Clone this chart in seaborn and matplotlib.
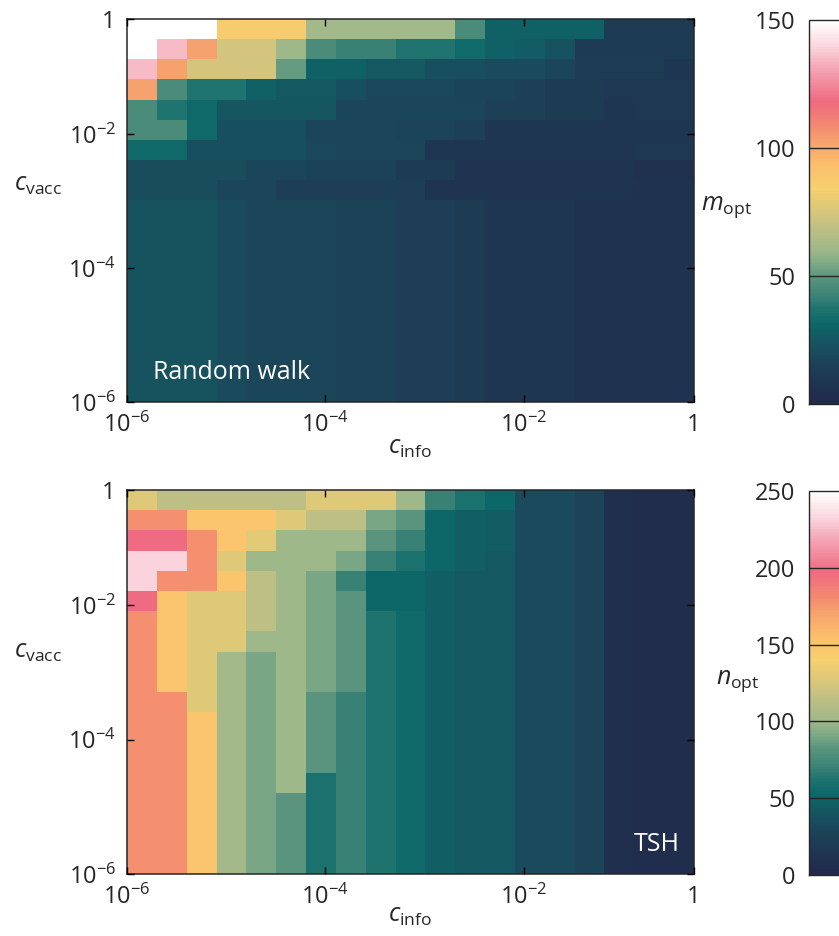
import numpy as np
import pandas as pd
import matplotlib
matplotlib.use("Agg")
import matplotlib.pyplot as plt
import seaborn as sns
from matplotlib.colors import LinearSegmentedColormap

# 19 bins per axis, each a factor 2 wider, starting at 1e-6
n_bins = 19
tick_text = ['$10^{-6}$', '$10^{-4}$', '$10^{-2}$', '1']
tick_decades = [1, 1e2, 1e4, None]

# optimal m for the random walk (rows: high c_vacc -> low c_vacc)
rw_m_opt = [
    [150, 150, 150, 86, 86, 86, 62, 62, 62, 62, 62, 46, 29, 29, 29, 29, 12, 12, 12],
    [150, 135, 103, 74, 74, 60, 46, 42, 42, 38, 38, 33, 29, 27, 23, 12, 12, 12, 12],
    [135, 103, 74, 74, 74, 51, 29, 29, 26, 26, 22, 22, 20, 20, 18, 13, 13, 13, 9],
    [103, 46, 38, 38, 29, 26, 26, 22, 19, 19, 19, 17, 17, 15, 12, 12, 10, 10, 10],
    [46, 38, 32, 25, 25, 25, 25, 18, 18, 18, 18, 18, 15, 15, 12, 12, 9, 10, 10],
    [46, 46, 32, 22, 22, 22, 18, 18, 18, 17, 17, 15, 9, 9, 9, 9, 9, 9, 9],
    [32, 32, 22, 22, 22, 22, 19, 18, 18, 18, 9, 9, 9, 9, 9, 9, 9, 10, 10],
    [21, 21, 21, 21, 18, 18, 16, 16, 16, 12, 12, 8, 8, 8, 8, 8, 8, 6, 6],
    [21, 21, 21, 18, 18, 14, 14, 14, 14, 14, 8, 8, 8, 8, 8, 8, 8, 7, 7],
    [23, 23, 23, 20, 18, 18, 18, 16, 16, 14, 14, 12, 9, 9, 9, 7, 7, 7, 7],
    [23, 23, 23, 20, 18, 18, 18, 16, 16, 14, 14, 12, 9, 9, 9, 7, 7, 7, 7],
    [23, 23, 23, 20, 18, 18, 18, 16, 16, 14, 14, 12, 9, 9, 9, 7, 7, 7, 7],
    [23, 23, 23, 20, 18, 18, 18, 16, 16, 14, 14, 12, 9, 9, 9, 7, 7, 7, 7],
    [23, 23, 23, 20, 18, 18, 18, 16, 16, 14, 14, 12, 9, 9, 9, 7, 7, 7, 7],
    [23, 23, 23, 20, 18, 18, 18, 16, 16, 14, 14, 12, 9, 9, 9, 7, 7, 7, 7],
    [23, 23, 23, 20, 18, 18, 18, 16, 16, 14, 14, 12, 9, 9, 9, 7, 7, 7, 7],
    [23, 23, 23, 20, 18, 18, 18, 16, 16, 14, 14, 12, 9, 9, 9, 7, 7, 7, 7],
    [23, 23, 23, 20, 18, 18, 18, 16, 16, 14, 14, 12, 9, 9, 9, 7, 7, 7, 7],
    [23, 23, 23, 20, 18, 18, 18, 16, 16, 14, 14, 12, 9, 9, 9, 7, 7, 7, 7],
]

# optimal n for TSH
tsh_n_opt = [
    [128, 115, 115, 115, 115, 115, 128, 128, 128, 100, 70, 60, 52, 33, 33, 28, 8, 5, 5],
    [178, 178, 150, 150, 150, 128, 115, 115, 90, 83, 52, 47, 45, 33, 33, 28, 8, 5, 5],
    [198, 198, 178, 150, 130, 100, 100, 100, 83, 70, 52, 47, 45, 33, 33, 28, 8, 5, 5],
    [232, 232, 178, 128, 100, 100, 100, 90, 70, 60, 52, 47, 42, 33, 33, 28, 8, 5, 5],
    [232, 178, 178, 150, 115, 100, 90, 70, 52, 52, 47, 42, 42, 33, 33, 28, 8, 5, 5],
    [198, 150, 128, 128, 115, 100, 90, 83, 52, 52, 47, 42, 42, 33, 33, 28, 8, 5, 5],
    [178, 150, 128, 128, 115, 100, 90, 83, 62, 54, 47, 42, 42, 33, 33, 28, 8, 5, 5],
    [178, 150, 128, 128, 100, 100, 90, 83, 62, 54, 47, 42, 42, 33, 33, 28, 8, 5, 5],
    [178, 150, 128, 103, 90, 100, 90, 83, 62, 54, 47, 42, 42, 33, 33, 28, 8, 5, 5],
    [178, 150, 128, 103, 90, 100, 90, 83, 62, 54, 47, 42, 42, 33, 33, 28, 8, 5, 5],
    [178, 178, 128, 103, 90, 100, 83, 70, 62, 54, 47, 42, 42, 33, 33, 28, 8, 5, 5],
    [178, 178, 150, 103, 90, 100, 83, 70, 62, 54, 47, 42, 42, 33, 33, 28, 8, 5, 5],
    [178, 178, 150, 103, 90, 100, 83, 70, 62, 54, 47, 42, 42, 33, 33, 28, 8, 5, 5],
    [178, 178, 150, 103, 90, 100, 83, 70, 62, 54, 47, 42, 42, 33, 33, 28, 8, 5, 5],
    [178, 178, 150, 103, 90, 100, 60, 70, 62, 54, 47, 42, 42, 33, 33, 28, 8, 5, 5],
    [178, 178, 150, 103, 90, 83, 60, 70, 62, 54, 47, 42, 42, 33, 33, 28, 8, 5, 5],
    [178, 178, 150, 103, 90, 83, 60, 70, 62, 54, 47, 42, 42, 33, 33, 28, 8, 5, 5],
    [178, 178, 150, 103, 90, 83, 60, 70, 62, 54, 47, 42, 42, 33, 33, 28, 8, 5, 5],
    [178, 178, 150, 103, 90, 83, 60, 70, 62, 54, 47, 42, 42, 33, 33, 28, 8, 5, 5],
]

cmap = LinearSegmentedColormap.from_list("opt", [
    (0.00, "#222a4a"), (0.03, "#202f4e"), (0.11, "#1c4358"), (0.13, "#1a4a5b"),
    (0.17, "#145862"), (0.21, "#0d6868"), (0.25, "#1f7470"), (0.28, "#3a8275"),
    (0.33, "#5a947e"), (0.36, "#78a684"), (0.40, "#9eb88a"), (0.46, "#bfbf84"),
    (0.51, "#dcc87a"), (0.56, "#f6cf6e"), (0.62, "#fcc06c"), (0.69, "#f6a06e"),
    (0.72, "#f48c70"), (0.79, "#ef6a80"), (0.88, "#f4a8b8"), (0.93, "#fad4dc"),
    (1.00, "#ffffff")])

sns.set_style("white")
plt.rcParams['font.family'] = ['Open Sans', 'DejaVu Sans']
plt.rcParams['mathtext.fontset'] = 'custom'
plt.rcParams['mathtext.rm'] = 'Open Sans'
plt.rcParams['mathtext.it'] = 'Open Sans:italic'
plt.rcParams['mathtext.bf'] = 'Open Sans:bold'

W, H = 839, 936
fig = plt.figure(figsize=(W / 100, H / 100), dpi=100)


def box(x0, y0, x1, y1):
    return [x0 / W, 1 - y1 / H, (x1 - x0) / W, (y1 - y0) / H]


tick_pos = [np.log2(d) if d else n_bins for d in tick_decades]
frame = '#262626'


def panel(data, vmax, cbticks, ax_box, cb_box, name, cb_label, cb_lab_xy, ylab_y, xlab_y, note):
    ax = fig.add_axes(box(*ax_box))
    cax = fig.add_axes(box(*cb_box))
    df = pd.DataFrame(data)
    sns.heatmap(df, ax=ax, cmap=cmap, vmin=0, vmax=vmax, cbar_ax=cax,
                xticklabels=False, yticklabels=False, linewidths=0)
    ax.set_axisbelow(False)
    for s in ax.spines.values():
        s.set_visible(True)
        s.set_color(frame)
        s.set_linewidth(1.1)
    ax.set_xticks(tick_pos)
    ax.set_xticklabels(tick_text)
    ax.set_yticks([n_bins - p for p in tick_pos])
    ax.set_yticklabels(tick_text)
    ax.tick_params(direction='in', bottom=True, left=True, top=True, right=True,
                   length=5, width=1, color='black', labelsize=17, pad=8)
    ax.set_xlabel('')
    ax.set_ylabel('')

    cbar = ax.collections[0].colorbar
    cbar.outline.set_visible(True)
    cbar.outline.set_edgecolor(frame)
    cbar.outline.set_linewidth(1)
    cbar.set_ticks(cbticks)
    cax.yaxis.set_ticks_position('left')
    cax.tick_params(direction='in', left=True, right=False, length=0,
                    labelsize=17, pad=10)
    # tick lines drawn across the bar, as in the original
    for t in cbticks[1:-1]:
        cax.axhline(t, color=frame, lw=1, zorder=5)

    fig.text(62 / W, 1 - ylab_y / H, r'$c_{\mathrm{vacc}}$', fontsize=18,
             ha='right', va='center')
    fig.text(410 / W, 1 - xlab_y / H, r'$c_{\mathrm{info}}$', fontsize=18,
             ha='center', va='center')
    fig.text(cb_lab_xy[0] / W, 1 - cb_lab_xy[1] / H, cb_label, fontsize=18,
             ha='left', va='center')
    if note == 'left':
        ax.text(0.045, 0.06, name, transform=ax.transAxes, color='white',
                fontsize=18, ha='left', va='baseline')
    else:
        ax.text(0.974, 0.06, name, transform=ax.transAxes, color='white',
                fontsize=18, ha='right', va='baseline')


panel(rw_m_opt, 150, [0, 50, 100, 150], (127, 19, 694, 402), (809, 20, 870, 404),
      'Random walk', r'$m_{\mathrm{opt}}$', (701, 207), 185, 447, 'left')
panel(tsh_n_opt, 250, [0, 50, 100, 150, 200, 250], (127, 490, 694, 874), (809, 491, 870, 875),
      'TSH', r'$n_{\mathrm{opt}}$', (716, 681), 652, 915, 'right')

fig.savefig('out.png', dpi=100)
